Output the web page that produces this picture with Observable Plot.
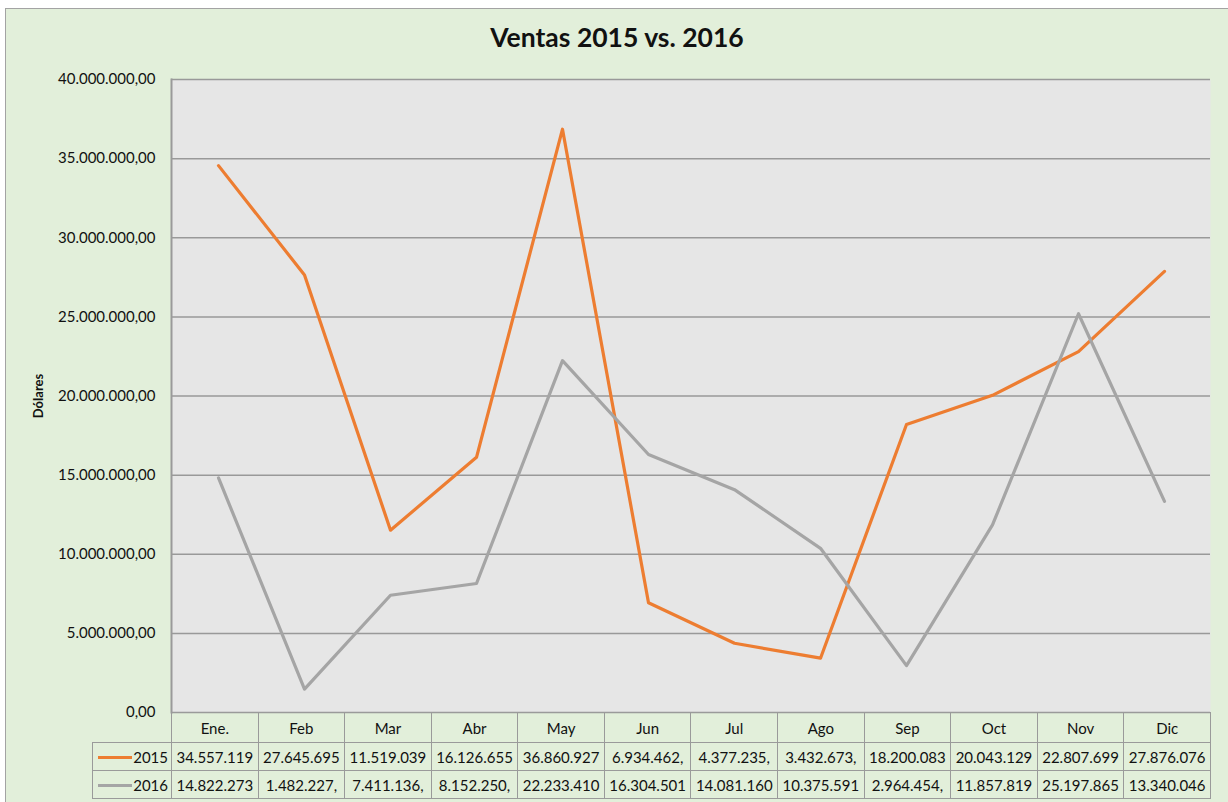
<!DOCTYPE html>
<html>
<head>
<meta charset="utf-8">
<script src="https://cdn.jsdelivr.net/npm/d3@7"></script>
<script src="https://cdn.jsdelivr.net/npm/@observablehq/plot@0.6"></script>
<style>
  html, body { margin: 0; padding: 0; background: #ffffff; }
  #wrap { position: relative; width: 1228px; height: 802px; overflow: hidden; font-family: Lato, "Open Sans", sans-serif; }
  #bg { position: absolute; left: 5px; top: 8px; width: 1240px; height: 820px; background: #e2efda; border: 1.5px solid #a3a3a3; box-sizing: border-box; }
  #title { position: absolute; left: 0; top: 21px; width: 1234px; text-align: center; font-weight: bold; font-size: 26.5px; color: #111; }
  #chart { position: absolute; left: 0; top: 0; }
  #tbl { position: absolute; left: 92px; top: 712px; border-collapse: collapse; table-layout: fixed; font-size: 15px; color: #111; }
  #tbl td { border: 1.5px solid #9a9a9a; padding: 0; text-align: center; white-space: nowrap; overflow: hidden; }
  #tbl tr.hdr td { height: 29px; }
  #tbl tr.val td { height: 27px; }
  #tbl td.blank { border: none; border-right: 1.5px solid #9a9a9a; }
  #tbl td.key { text-align: right; padding-right: 3px; }
  .sw { display: inline-block; width: 34px; height: 3px; vertical-align: middle; margin-right: 1px; position: relative; top: -1px; }
</style>
</head>
<body>
<div id="wrap">
  <div id="bg"></div>
  <div id="title">Ventas 2015 vs. 2016</div>
  <div id="chart"></div>
  <table id="tbl"></table>
</div>
<script>
const months = ["Ene.", "Feb", "Mar", "Abr", "May", "Jun", "Jul", "Ago", "Sep", "Oct", "Nov", "Dic"];
const ventas2015 = [34557119, 27645695, 11519039, 16126655, 36860927, 6934462, 4377235, 3432673, 18200083, 20043129, 22807699, 27876076];
const ventas2016 = [14822273, 1482227, 7411136, 8152250, 22233410, 16304501, 14081160, 10375591, 2964454, 11857819, 25197865, 13340046];
const seriesNames = ["2015", "2016"];
const seriesColors = ["#ed7d31", "#a5a5a5"];
const yTicks = [0, 5000000, 10000000, 15000000, 20000000, 25000000, 30000000, 35000000, 40000000];

const locale = d3.formatLocale({decimal: ",", thousands: ".", grouping: [3], currency: ["$", ""]});
const fmt = locale.format(",.2f");

const rows = [];
[ventas2015, ventas2016].forEach((vals, s) => {
  vals.forEach((v, i) => rows.push({month: months[i], value: v, serie: seriesNames[s]}));
});

const chart = Plot.plot({
  width: 1228,
  height: 802,
  marginLeft: 171,
  marginRight: 18,
  marginTop: 79,
  marginBottom: 90,
  style: {background: "transparent", fontFamily: "Lato, 'Open Sans', sans-serif", fontSize: "15px", color: "#111"},
  x: {type: "point", domain: months, padding: 0.5, axis: null},
  y: {domain: [0, 40000000]},
  color: {domain: seriesNames, range: seriesColors},
  marks: [
    Plot.frame({fill: "#e6e6e6", stroke: null}),
    Plot.gridY(yTicks, {stroke: "#999999", strokeOpacity: 1, strokeWidth: 1.5}),
    Plot.frame({anchor: "left", stroke: "#9a9a9a", strokeWidth: 2}),
    Plot.axisY(yTicks, {tickFormat: fmt, tickSize: 0, tickPadding: 16, label: null, fontSize: 15}),
    Plot.text(["Dólares"], {frameAnchor: "left", textAnchor: "middle", dx: -133, rotate: -90, fontWeight: "bold", fontSize: 13, fill: "#111"}),
    Plot.line(rows, {x: "month", y: "value", z: "serie", stroke: "serie", strokeWidth: 3.2, strokeLinejoin: "round", strokeLinecap: "round"})
  ]
});
document.getElementById("chart").appendChild(chart);

// data table under the plot (Excel-style), columns aligned with the plot's x scale
const tbl = document.getElementById("tbl");
const plotW = 1228 - 171 - 18;
const colW = plotW / months.length;
const cg = document.createElement("colgroup");
const c0 = document.createElement("col"); c0.style.width = "79px"; cg.appendChild(c0);
months.forEach(() => { const c = document.createElement("col"); c.style.width = colW + "px"; cg.appendChild(c); });
tbl.appendChild(cg);
tbl.style.width = (79 + plotW) + "px";

const hdr = document.createElement("tr"); hdr.className = "hdr";
const b = document.createElement("td"); b.className = "blank"; hdr.appendChild(b);
months.forEach(m => { const td = document.createElement("td"); td.textContent = m; hdr.appendChild(td); });
tbl.appendChild(hdr);

[ventas2015, ventas2016].forEach((vals, s) => {
  const tr = document.createElement("tr"); tr.className = "val";
  const k = document.createElement("td"); k.className = "key";
  const sw = document.createElement("span"); sw.className = "sw"; sw.style.background = seriesColors[s];
  k.appendChild(sw); k.appendChild(document.createTextNode(seriesNames[s]));
  tr.appendChild(k);
  vals.forEach(v => { const td = document.createElement("td"); td.textContent = fmt(v).slice(0, 10); tr.appendChild(td); });
  tbl.appendChild(tr);
});
</script>
</body>
</html>
